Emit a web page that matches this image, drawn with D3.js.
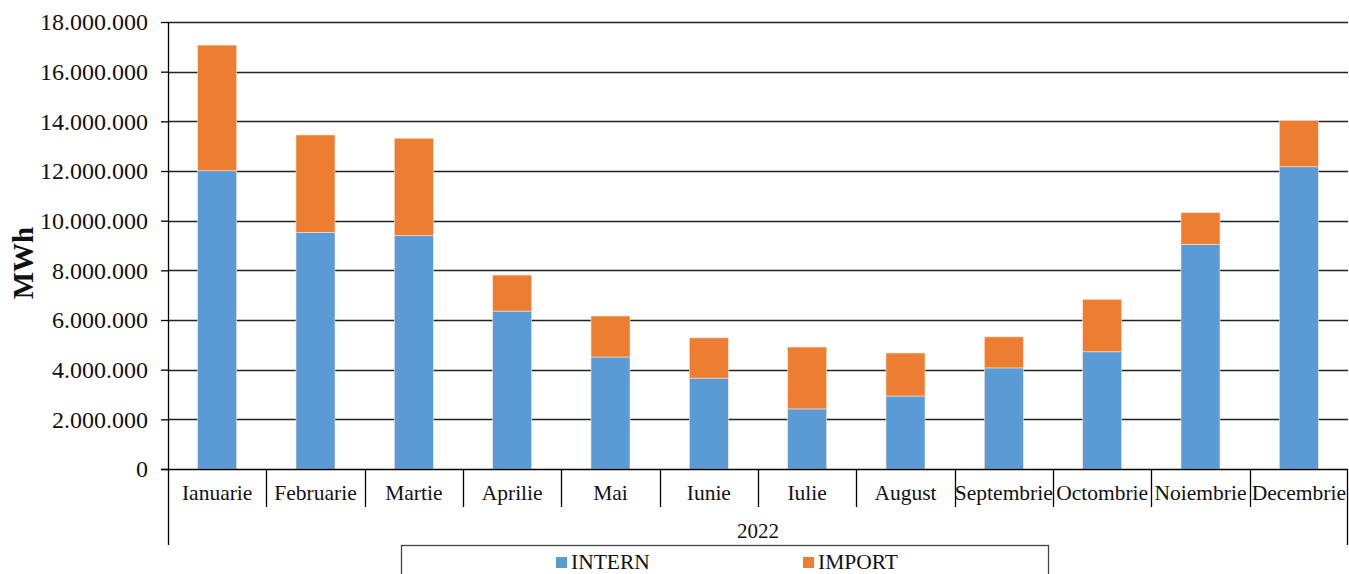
<!DOCTYPE html>
<html lang="ro">
<head>
<meta charset="utf-8">
<title>MWh 2022</title>
<script src="https://d3js.org/d3.v7.min.js"></script>
<style>
  body{margin:0;background:#fff;font-family:"Liberation Serif","Times New Roman",serif;}
  svg{display:block;}
</style>
</head>
<body>
<div id="chart"></div>
<script>
// values (MWh)
var months = ["Ianuarie","Februarie","Martie","Aprilie","Mai","Iunie","Iulie","August","Septembrie","Octombrie","Noiembrie","Decembrie"]
var intern = [12010000,9530000,9400000,6360000,4510000,3660000,2420000,2940000,4070000,4720000,9050000,12170000]
var importv = [5060000,3920000,3920000,1450000,1650000,1620000,2490000,1730000,1250000,2110000,1270000,1860000]
var yTicks = [0,2000000,4000000,6000000,8000000,10000000,12000000,14000000,16000000,18000000]
var seriesNames = ["INTERN","IMPORT"]
var colors = ["#5B9BD5","#ED7D31"]
var year = "2022"

var W = 1349, H = 574
// plot box (note: "top" is reserved on window, so use other names)
var pL = 168, pR = 1348, pT = 22, pB = 469

var svg = d3.select("#chart").append("svg").attr("width",W).attr("height",H)

var x = d3.scaleBand().domain(months).range([pL,pR]).paddingInner(0).paddingOuter(0)
var y = d3.scaleLinear().domain([0,18000000]).range([pB,pT])

var fmt = function(v){ return v===0 ? "0" : d3.format(",")(v).replace(/,/g,".") }

// gridlines
svg.append("g").selectAll("line").data(yTicks.filter(function(d){return d>0})).enter()
  .append("line")
  .attr("x1",pL).attr("x2",pR)
  .attr("y1",function(d){return Math.round(y(d))+0.5})
  .attr("y2",function(d){return Math.round(y(d))+0.5})
  .attr("stroke","#222").attr("stroke-width",1.3)

// y axis
var yAxis = d3.axisLeft(y).tickValues(yTicks).tickFormat(fmt).tickSize(7).tickPadding(13)
var gy = svg.append("g").attr("transform","translate("+pL+",0)").call(yAxis)
gy.select(".domain").remove()
gy.selectAll(".tick line").attr("stroke","#000").attr("stroke-width",1.3)
gy.selectAll(".tick text").attr("font-size","24px").attr("fill","#111")
  .attr("font-family","Liberation Serif, Times New Roman, serif")

// stacked bars
var table = months.map(function(m,i){ return {month:m, INTERN:intern[i], IMPORT:importv[i]} })
var stack = d3.stack().keys(seriesNames)(table)
var bw = 39
svg.append("g").selectAll("g").data(stack).enter()
  .append("g").attr("fill",function(d,i){return colors[i]})
  .selectAll("rect").data(function(d){return d}).enter()
  .append("rect")
  .attr("x",function(d){return x(d.data.month)+x.bandwidth()/2-bw/2})
  .attr("width",bw)
  .attr("y",function(d){return y(d[1])})
  .attr("height",function(d){return y(d[0])-y(d[1])})
  .attr("stroke","#fbe3d4").attr("stroke-width",0.6)

// axis lines
svg.append("line").attr("x1",pL+0.5).attr("x2",pL+0.5).attr("y1",pT).attr("y2",545).attr("stroke","#000").attr("stroke-width",1.3)
svg.append("line").attr("x1",pR-0.5).attr("x2",pR-0.5).attr("y1",pB).attr("y2",545).attr("stroke","#000").attr("stroke-width",1.3)
svg.append("line").attr("x1",161).attr("x2",pR).attr("y1",pB+0.5).attr("y2",pB+0.5).attr("stroke","#000").attr("stroke-width",1.5)

// category separators
svg.append("g").selectAll("line").data(months.slice(1)).enter()
  .append("line")
  .attr("x1",function(d){return Math.round(x(d))+0.5})
  .attr("x2",function(d){return Math.round(x(d))+0.5})
  .attr("y1",pB).attr("y2",507)
  .attr("stroke","#000").attr("stroke-width",1.3)

// month labels
svg.append("g").selectAll("text").data(months).enter()
  .append("text")
  .attr("x",function(d){return x(d)+x.bandwidth()/2})
  .attr("y",500)
  .attr("text-anchor","middle")
  .attr("font-size","21.5px").attr("fill","#111")
  .text(function(d){return d})

// year label
svg.append("text").attr("x",(pL+pR)/2).attr("y",538)
  .attr("text-anchor","middle").attr("font-size","21px").attr("fill","#111").text(year)

// y title
svg.append("text").attr("transform","translate(33,263) rotate(-90)")
  .attr("text-anchor","middle").attr("font-size","29px").attr("font-weight","bold").attr("fill","#111")
  .text("MWh")

// legend
svg.append("rect").attr("x",401.5).attr("y",545.5).attr("width",647).attr("height",40)
  .attr("fill","#fff").attr("stroke","#444").attr("stroke-width",1.3)
var legX = [556,803]
var leg = svg.append("g").selectAll("g").data(seriesNames).enter()
  .append("g").attr("transform",function(d,i){return "translate("+legX[i]+",557)"})
leg.append("rect").attr("width",11).attr("height",11).attr("fill",function(d,i){return colors[i]})
leg.append("text").attr("x",15).attr("y",12).attr("font-size","21.5px").attr("fill","#111").text(function(d){return d})
</script>
</body>
</html>
